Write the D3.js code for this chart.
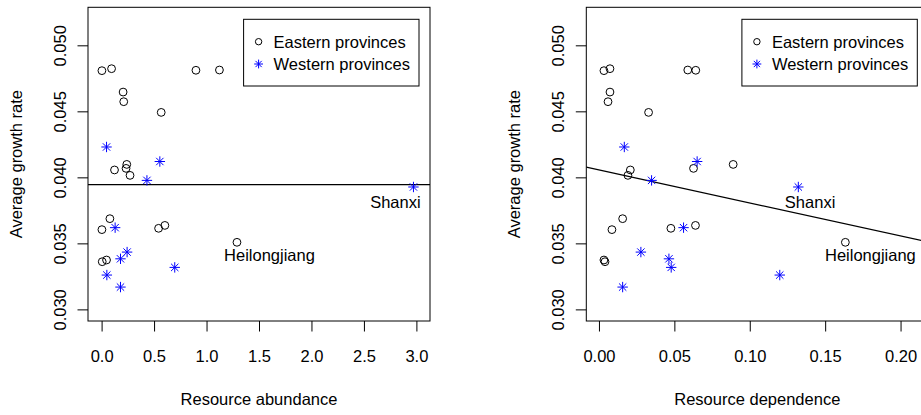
<!DOCTYPE html>
<meta charset="utf-8">
<style>
  body { margin: 0; background: #fff; }
  text { font-family: "Liberation Sans", Arial, sans-serif; font-size: 16.5px; fill: #000; }
  .box { fill: none; stroke: #000; stroke-width: 1px; }
  .fit { stroke: #000; stroke-width: 1.3px; }
  .east { fill: none; stroke: #000; stroke-width: 1px; }
  .west { stroke: #0000ff; stroke-width: 1px; }
</style>
<body>
<script src="https://d3js.org/d3.v7.min.js"></script>
<script>

// ---- data ----
// Eastern provinces
var growthEast     = [0.04808, 0.04823, 0.04811, 0.04813, 0.04646, 0.04573, 0.04492, 0.04056, 0.04098,
                      0.04068, 0.04015, 0.03687, 0.03604, 0.03614, 0.03636, 0.03508, 0.03361, 0.03374];
var abundanceEast  = [0.003, 0.095, 0.899, 1.123, 0.205, 0.211, 0.568, 0.123, 0.240,
                      0.233, 0.271, 0.079, 0.003, 0.543, 0.603, 1.290, 0.006, 0.047];
var dependenceEast = [0.0033, 0.0073, 0.0642, 0.0589, 0.0073, 0.0060, 0.0329, 0.0208, 0.0890,
                      0.0627, 0.0192, 0.0157, 0.0086, 0.0477, 0.0640, 0.1634, 0.0040, 0.0033];
// Western provinces
var growthWest     = [0.04230, 0.04120, 0.03977, 0.03927, 0.03619, 0.03434, 0.03383, 0.03260, 0.03318, 0.03169];
var abundanceWest  = [0.047, 0.555, 0.432, 2.972, 0.129, 0.243, 0.180, 0.050, 0.697, 0.180];
var dependenceWest = [0.0168, 0.0651, 0.0349, 0.1322, 0.0561, 0.0278, 0.0464, 0.1199, 0.0479, 0.0157];

// fitted lines: [intercept, slope]
var fitAbundance  = [0.03945, 0];
var fitDependence = [0.04056, -0.025];

// axis ticks
var yTicks = [0.030, 0.035, 0.040, 0.045, 0.050];
var xTicksAbundance  = [0, 0.5, 1, 1.5, 2, 2.5, 3];
var xTicksDependence = [0, 0.05, 0.10, 0.15, 0.20];

// annotations (label, x, y in data units)
var labelsAbundance  = [["Shanxi", 2.80, 0.0377], ["Heilongjiang", 1.60, 0.03365]];
var labelsDependence = [["Shanxi", 0.140, 0.0377], ["Heilongjiang", 0.180, 0.03365]];

var legendNames = ["Eastern provinces", "Western provinces"];

// ---- layout ----
var W = 921, H = 415;
var boxW = 342, boxTop = 7.3, boxBottom = 321;

var svg = d3.select("body").append("svg")
    .attr("width", W)
    .attr("height", H);

// draw the star (pch 8): plus + cross
function star(g, cx, cy, r) {
  var d = r / Math.SQRT2;
  var segs = [[-r, 0, r, 0], [0, -r, 0, r], [-d, -d, d, d], [-d, d, d, -d]];
  segs.forEach(function(s) {
    g.append("line").attr("class", "west")
      .attr("x1", cx + s[0]).attr("y1", cy + s[1])
      .attr("x2", cx + s[2]).attr("y2", cy + s[3]);
  });
}

function panel(left, xDomain, xTicks, xFmt, xEast, xWest, fit, labels, xTitle) {
  var x = d3.scaleLinear().domain(xDomain).range([left, left + boxW]);
  var y = d3.scaleLinear().domain([0.03 - 0.00088, 0.052 + 0.00088]).range([boxBottom, boxTop]);
  var g = svg.append("g");

  // clip for the fitted line
  var clipId = "clip" + Math.round(left);
  svg.append("clipPath").attr("id", clipId)
    .append("rect").attr("x", left).attr("y", boxTop).attr("width", boxW).attr("height", boxBottom - boxTop);

  // x axis
  var xa = g.append("g")
      .attr("transform", "translate(0," + boxBottom + ")")
      .call(d3.axisBottom(x).tickValues(xTicks).tickFormat(xFmt).tickSize(10.5).tickPadding(0));
  xa.select(".domain").remove();
  xa.selectAll("line").attr("stroke", "#000");
  xa.selectAll("text").attr("y", 40.7).attr("dy", 0)
    .style("font-size", "16.5px").style("font-family", "'Liberation Sans', Arial, sans-serif").attr("fill", "#000");

  // y axis
  var ya = g.append("g")
      .attr("transform", "translate(" + left + ",0)")
      .call(d3.axisLeft(y).tickValues(yTicks).tickFormat(d3.format(".3f")).tickSize(10.5));
  ya.select(".domain").remove();
  ya.selectAll("line").attr("stroke", "#000");
  ya.selectAll("text")
    .attr("x", null).attr("dy", null)
    .attr("text-anchor", "middle")
    .attr("transform", "translate(-22,0) rotate(-90)")
    .style("font-size", "16.5px").style("font-family", "'Liberation Sans', Arial, sans-serif").attr("fill", "#000");

  // box
  g.append("rect").attr("class", "box")
    .attr("x", left).attr("y", boxTop).attr("width", boxW).attr("height", boxBottom - boxTop);

  // axis titles
  g.append("text").attr("x", left + boxW / 2).attr("y", 405)
    .attr("text-anchor", "middle").text(xTitle);
  g.append("text")
    .attr("transform", "translate(" + (left - 66.5) + "," + ((boxTop + boxBottom) / 2) + ") rotate(-90)")
    .attr("text-anchor", "middle").text("Average growth rate");

  // fitted line
  g.append("line").attr("class", "fit")
    .attr("clip-path", "url(#" + clipId + ")")
    .attr("x1", x(xDomain[0])).attr("y1", y(fit[0] + fit[1] * xDomain[0]))
    .attr("x2", x(xDomain[1])).attr("y2", y(fit[0] + fit[1] * xDomain[1]));

  // eastern points
  g.selectAll("circle.east").data(d3.range(growthEast.length)).enter()
    .append("circle").attr("class", "east")
    .attr("cx", function(i) { return x(xEast[i]); })
    .attr("cy", function(i) { return y(growthEast[i]); })
    .attr("r", 3.9);

  // western points
  growthWest.forEach(function(v, i) { star(g, x(xWest[i]), y(v), 5.2); });

  // labels
  labels.forEach(function(l) {
    g.append("text").attr("x", x(l[1])).attr("y", y(l[2]))
      .attr("text-anchor", "middle").text(l[0]);
  });

  // legend
  var lw = 175.4, lh = 66.7;
  var lx = left + boxW - 11 - lw, ly = boxTop + 12;
  g.append("rect").attr("class", "box")
    .attr("x", lx).attr("y", ly).attr("width", lw).attr("height", lh).attr("fill", "#fff");
  g.append("circle").attr("class", "east").attr("cx", lx + 15).attr("cy", ly + 22.4).attr("r", 3.2);
  star(g, lx + 15, ly + 44.7, 4.4);
  legendNames.forEach(function(n, i) {
    g.append("text").attr("x", lx + 30).attr("y", ly + 28.8 + i * 22.3).text(n);
  });
}

panel(88, [-0.1296, 3.1296], xTicksAbundance, d3.format(".1f"),
      abundanceEast, abundanceWest, fitAbundance, labelsAbundance, "Resource abundance");
panel(586.3, [-0.0084, 0.2184], xTicksDependence, d3.format(".2f"),
      dependenceEast, dependenceWest, fitDependence, labelsDependence, "Resource dependence");

</script>
</body>
